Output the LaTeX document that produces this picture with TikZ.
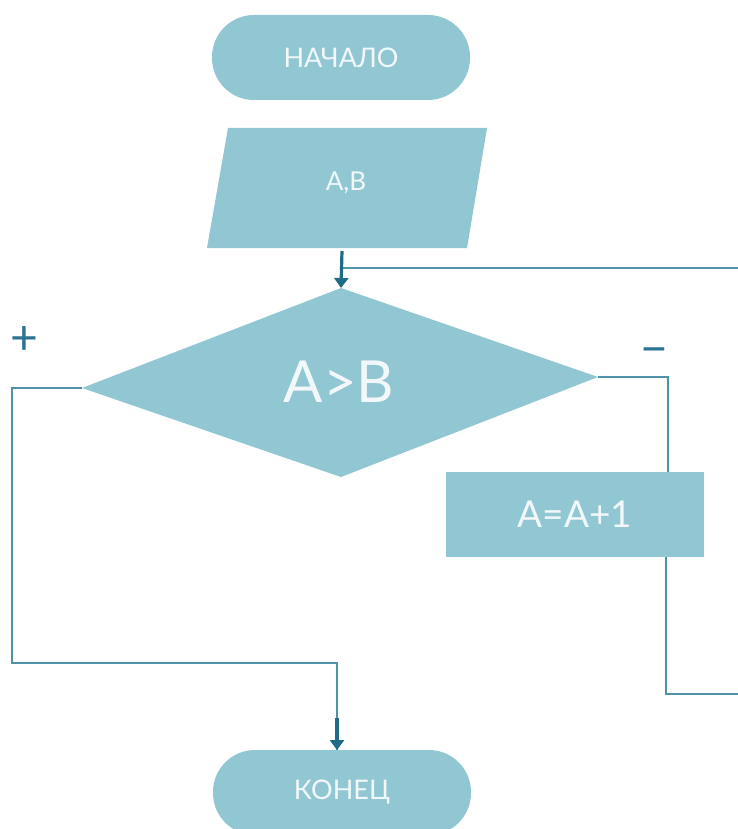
\documentclass[tikz,border=0pt]{standalone}
\usepackage{fontspec}
\setmainfont{Lato}
\usetikzlibrary{arrows.meta}
\definecolor{fillc}{HTML}{91C7D2}
\definecolor{linec}{HTML}{4F93AA}
\definecolor{arrc}{HTML}{1F6B88}
\definecolor{signc}{HTML}{2B7392}
\definecolor{txtc}{HTML}{F2F8FA}
\tikzset{
  term/.style={fill=fillc, rounded corners=42pt, minimum width=258pt, minimum height=85pt, inner sep=0pt, text=txtc},
  procbox/.style={fill=fillc, minimum width=258pt, minimum height=85pt, inner sep=0pt, text=txtc},
  txt/.style={text=txtc, inner sep=0pt},
  conn/.style={draw=linec, line width=1.8pt},
  arr/.style={draw=arrc, line width=3.2pt, -{Triangle[length=10pt,width=14pt]}},
  sign/.style={text=signc, inner sep=0pt, font=\fontsize{48}{48}\selectfont}
}
\begin{document}
\begin{tikzpicture}[x=1pt,y=-1pt]
\useasboundingbox (0,0) rectangle (738,829);
\clip (0,0) rectangle (738,829);
% start
\node[term, font=\fontsize{27}{27}\selectfont] (start) at (341,57.5) {НАЧАЛО};
% input parallelogram
\coordinate (p1) at (228,128);
\coordinate (p2) at (487,128);
\coordinate (p3) at (467,248);
\coordinate (p4) at (207,248);
\fill[fillc] (p1) -- (p2) -- (p3) -- (p4) -- cycle;
\node[txt, font=\fontsize{26}{26}\selectfont] (input) at (346,183) {A,B};
% decision diamond
\coordinate (dT) at (341,288);
\coordinate (dR) at (598,377);
\coordinate (dB) at (341,477);
\coordinate (dL) at (82,388);
\fill[fillc] (dT) -- (dR) -- (dB) -- (dL) -- cycle;
\node[txt, font=\fontsize{58}{58}\selectfont] (dec) at (339,382) {A>B};
% process
\node[procbox, font=\fontsize{37}{37}\selectfont] (proc) at (575,514.5) {A=A+1};
% end
\node[term, font=\fontsize{27}{27}\selectfont] (endn) at (342,792.5) {КОНЕЦ};
% signs
\node[sign] (plus) at (24,341) {+};
\node[sign] (minus) at (654,357) {−};
% coordinates for connectors
\coordinate (inb) at (342,251);
\coordinate (loopR) at (738,268);
\coordinate (loopJ) at (342,268);
\coordinate (lc1) at (12,388);
\coordinate (lc2) at (12,663);
\coordinate (lc3) at (337,663);
\coordinate (la) at (337,718);
\coordinate (endtop) at (337,750);
\coordinate (rc1) at (668,377);
\coordinate (rc2) at (668,472);
\coordinate (rb1) at (666,557);
\coordinate (rb2) at (666,694);
\coordinate (rb3) at (738,694);
% connectors
\draw[conn] (loopR) -- (loopJ);
\draw[arr] (inb) -- (dT);
\draw[conn] (dL) -- (lc1) -- (lc2) -- (lc3) -- (endtop);
\draw[arr] (la) -- (endtop);
\draw[conn] (dR) -- (rc1) -- (rc2);
\draw[conn] (rb1) -- (rb2) -- (rb3);
\end{tikzpicture}
\end{document}
